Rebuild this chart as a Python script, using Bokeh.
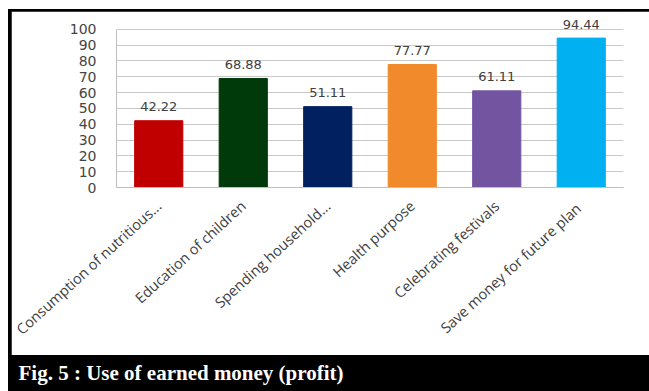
import math
from bokeh.plotting import figure
from bokeh.layouts import column
from bokeh.models import Label, ColumnDataSource, FixedTicker, Range1d
from bokeh.embed import file_html
from bokeh.resources import INLINE
from bokeh.core.properties import value

categories = ["Consumption of nutritious...", "Education of children", "Spending household...",
              "Health purpose", "Celebrating festivals", "Save money for  future plan"]
values = [42.22, 68.88, 51.11, 77.77, 61.11, 94.44]
value_labels = ["42.22", "68.88", "51.11", "77.77", "61.11", "94.44"]
colors = ["#c00000", "#013a0a", "#002060", "#f08a2a", "#7254a0", "#00b0f0"]
y_ticks = [0, 10, 20, 30, 40, 50, 60, 70, 80, 90, 100]
caption = "Fig. 5 : Use of earned money (profit)"

src = ColumnDataSource(dict(cat=categories, val=values, lab=value_labels, col=colors))

# main chart (sits inside the black frame: 3px left edge, 2px top edge)
p = figure(width=638, height=344, x_range=categories, y_range=Range1d(0, 110),
           output_backend="svg", toolbar_location=None, frame_align=False,
           min_border_left=105, min_border_right=26, min_border_top=2, min_border_bottom=168,
           margin=(2, 0, 0, 3))
p.background_fill_color = "white"
p.border_fill_color = "white"
p.outline_line_color = "white"

p.vbar(x="cat", top="val", width=0.57, color="col", source=src)
p.text(x="cat", y="val", text="lab", source=src, text_align="center", text_baseline="alphabetic",
       y_offset=-14, text_font=value("DejaVu Sans"), text_font_size="13px", text_color="#404040")

p.yaxis.ticker = FixedTicker(ticks=y_ticks)
p.yaxis.bounds = (0, 100)
p.yaxis.axis_line_color = "#bfbfbf"
p.yaxis.major_tick_line_color = None
p.yaxis.minor_tick_line_color = None
p.yaxis.major_label_standoff = 14
p.yaxis.major_label_text_font = "DejaVu Sans"
p.yaxis.major_label_text_font_size = "14px"
p.yaxis.major_label_text_color = "#454545"

p.xaxis.axis_line_color = "#bfbfbf"
p.xaxis.major_tick_line_color = None
p.xaxis.minor_tick_line_color = None
p.xaxis.major_label_orientation = 0.74
p.xaxis.major_label_standoff = 10
p.xaxis.major_label_text_font = "Open Sans"
p.xaxis.major_label_text_font_size = "14.5px"
p.xaxis.major_label_text_color = "#404040"

p.xgrid.grid_line_color = None
p.ygrid.grid_line_color = "#c8c8c8"

# caption band
c = figure(width=641, height=36, x_range=Range1d(0, 641), y_range=Range1d(0, 36),
           output_backend="svg", toolbar_location=None, frame_align=False,
           min_border_left=0, min_border_right=0, min_border_top=0, min_border_bottom=0,
           x_axis_type=None, y_axis_type=None, margin=0)
c.background_fill_color = "black"
c.border_fill_color = "black"
c.outline_line_color = None
c.xgrid.visible = False
c.ygrid.visible = False
c.add_layout(Label(x=10, y=19, text=caption,
                   text_font="Liberation Serif", text_font_style="bold",
                   text_font_size="21px", text_color="white", text_baseline="alphabetic"))

layout = column(p, c, spacing=0, margin=(9, 0, 0, 8), styles={"background-color": "black"})

open("out.html", "w").write(file_html(layout, INLINE))
